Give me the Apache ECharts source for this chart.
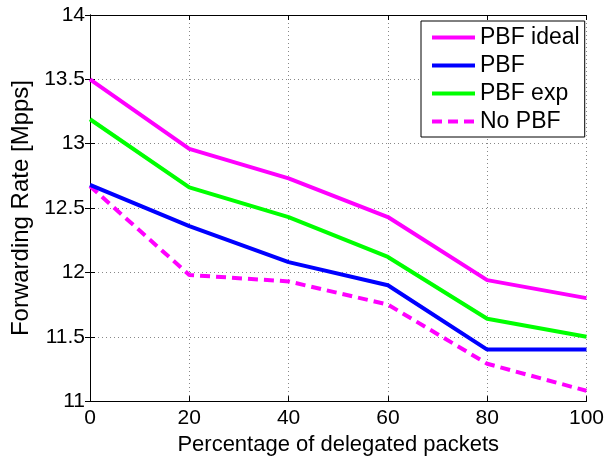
<!DOCTYPE html>
<html><head><meta charset="utf-8">
<script src="https://cdn.jsdelivr.net/npm/echarts@6/dist/echarts.min.js"></script>
<style>html,body{margin:0;padding:0;background:#fff}#c{width:607px;height:461px}</style>
</head><body><div id="c"></div>
<script>
const categories = [0, 20, 40, 60, 80, 100];
const pbfIdeal = [13.50, 12.96, 12.73, 12.43, 11.94, 11.80];
const pbf      = [12.68, 12.36, 12.08, 11.90, 11.40, 11.40];
const pbfExp   = [13.19, 12.66, 12.43, 12.12, 11.64, 11.50];
const noPbf    = [12.67, 11.98, 11.93, 11.75, 11.29, 11.08];
const seriesNames = ['PBF ideal', 'PBF', 'PBF exp', 'No PBF'];

const FONT = 'Liberation Sans';
const pair = arr => categories.map((x, i) => [x, arr[i]]);
const gridLine = {show: true, lineStyle: {color: '#888', type: [1, 3], width: 1}};
const axLine = {show: true, lineStyle: {color: '#000', width: 1}};
const tick = {show: true, inside: true, length: 5, lineStyle: {color: '#000'}};

const chart = echarts.init(document.getElementById('c'), null, {renderer: 'canvas'});
const mk = (name, data, color, dashed) => ({
  name, type: 'line', data: pair(data), symbol: 'none', showSymbol: false,
  lineStyle: {color, width: 4, type: dashed ? [10, 6] : 'solid'},
  itemStyle: {color}, animation: false
});
chart.setOption({
  animation: false,
  textStyle: {fontFamily: FONT},
  grid: {left: 90, right: 19, top: 15, bottom: 55, containLabel: false},
  legend: {
    orient: 'vertical', left: 421, top: 21,
    data: seriesNames,
    backgroundColor: '#fff', borderColor: '#000', borderWidth: 1, borderRadius: 0,
    padding: [5, 5, 4, 9], itemGap: 5, itemWidth: 43, itemHeight: 20,
    itemStyle: {opacity: 0},
    lineStyle: {width: 4},
    textStyle: {fontFamily: FONT, fontSize: 23, color: '#000', lineHeight: 23}
  },
  xAxis: [{
    type: 'value', min: 0, max: 100, interval: 20,
    name: 'Percentage of delegated packets', nameLocation: 'middle', nameGap: 23,
    nameTextStyle: {fontFamily: FONT, fontSize: 22, color: '#000'},
    axisLine: axLine, axisTick: tick, splitLine: gridLine,
    axisLabel: {fontFamily: FONT, fontSize: 21, color: '#000', margin: 7}
  }, {
    type: 'value', min: 0, max: 100, interval: 20, position: 'top',
    axisLine: axLine, axisTick: tick, splitLine: {show: false}, axisLabel: {show: false}
  }],
  yAxis: [{
    type: 'value', min: 11, max: 14, interval: 0.5,
    name: 'Forwarding Rate [Mpps]', nameLocation: 'middle', nameGap: 51,
    nameTextStyle: {fontFamily: FONT, fontSize: 24, color: '#000'},
    axisLine: axLine, axisTick: tick, splitLine: gridLine,
    axisLabel: {fontFamily: FONT, fontSize: 21, color: '#000', margin: 5}
  }, {
    type: 'value', min: 11, max: 14, interval: 0.5, position: 'right',
    axisLine: axLine, axisTick: tick, splitLine: {show: false}, axisLabel: {show: false}
  }],
  series: [
    mk('No PBF', noPbf, '#ff00ff', true),
    mk('PBF', pbf, '#0000ff', false),
    mk('PBF exp', pbfExp, '#00ff00', false),
    mk('PBF ideal', pbfIdeal, '#ff00ff', false)
  ]
});
</script></body></html>
